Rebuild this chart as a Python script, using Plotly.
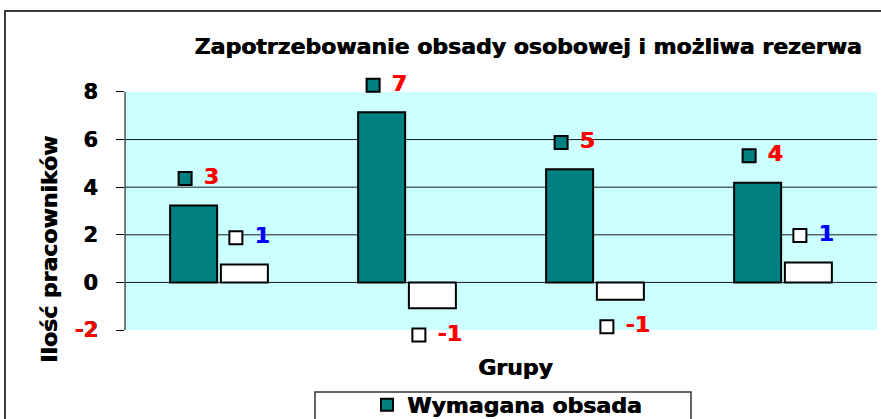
import plotly.graph_objects as go

# Data
groups = ["Grupa 1", "Grupa 2", "Grupa 3", "Grupa 4"]
wymagana_obsada = [3.23, 7.15, 4.75, 4.19]
mozliwa_rezerwa = [0.75, -1.08, -0.73, 0.84]
y_tick_values = [-2, 0, 2, 4, 6, 8]
grid_values = [0, 2, 4, 6]

# Layout geometry (pixels); the axis range is padded by half a unit so the
# data labels just outside [-2, 8] stay visible
W, H = 881, 419
ML, MR, MT, MB = 125, 4, 80, 77
PW, PH = W - ML - MR, H - MT - MB
Y_MIN, Y_MAX = min(y_tick_values), max(y_tick_values)
Y_PAD = 0.5
PX_PER_CAT = PW / len(groups)

FONT = "DejaVu Sans"
TEAL = "#008080"

BAR_W = 0.25
TEAL_OFF = -0.26
WHITE_OFF = 0.01


def px_x(px):
    return (px - ML) / PW


def px_y(py):
    return (H - MB - py) / PH


def bold(size, color="black"):
    return dict(family=FONT, size=size, weight="bold", color=color,
                shadow=f"0.7px 0px 0px {color}")


xs = list(range(len(groups)))

fig = go.Figure()

fig.add_trace(go.Bar(
    x=xs, y=wymagana_obsada, name="Wymagana obsada",
    offset=TEAL_OFF, width=BAR_W,
    marker=dict(color=TEAL, line=dict(color="black", width=2)),
    hoverinfo="skip",
))
fig.add_trace(go.Bar(
    x=xs, y=mozliwa_rezerwa, name="Możliwa rezerwa",
    offset=WHITE_OFF, width=BAR_W, showlegend=False,
    marker=dict(color="white", line=dict(color="black", width=2)),
    hoverinfo="skip",
))


def add_labels(values, bar_offset, key_color, color_fn):
    """Data labels with a legend key placed outside the bar end."""
    texts = [f"{int(round(v))}" for v in values]
    key_x, key_y = [], []
    for i, (v, t) in enumerate(zip(values, texts)):
        centre = i + bar_offset + BAR_W / 2
        w_px = 10 * len(t) + 4
        key_off_px = 4 - (26 + w_px) / 2 + 7.5
        sign = 1 if v >= 0 else -1
        key_x.append(centre + key_off_px / PX_PER_CAT)
        key_y.append(v + sign * 1.13)
    fig.add_trace(go.Scatter(
        x=key_x, y=key_y, mode="markers", showlegend=False, hoverinfo="skip",
        cliponaxis=False,
        marker=dict(symbol="square", size=13, color=key_color,
                    line=dict(color="black", width=2)),
    ))
    # one text trace per label colour
    colours = [color_fn(v) for v in values]
    for c in dict.fromkeys(colours):
        idx = [i for i, ci in enumerate(colours) if ci == c]
        fig.add_trace(go.Scatter(
            x=[key_x[i] for i in idx], y=[key_y[i] for i in idx],
            mode="markers+text", showlegend=False,
            hoverinfo="skip", cliponaxis=False,
            marker=dict(size=28, opacity=0),
            text=[texts[i] for i in idx], textposition="middle right",
            textfont=bold(22, c),
        ))


add_labels(wymagana_obsada, TEAL_OFF, TEAL, lambda v: "#ff0000")
add_labels(mozliwa_rezerwa, WHITE_OFF, "white",
           lambda v: "#0000ff" if v >= 0 else "#ff0000")

tick_text = [
    f'<span style="color:#ff0000">{v}</span>' if v < 0 else str(v)
    for v in y_tick_values
]

shapes = [
    # plot area background between the outer ticks
    dict(type="rect", xref="paper", yref="y", x0=0, x1=1,
         y0=Y_MIN, y1=Y_MAX, layer="below", line=dict(width=0),
         fillcolor="#ccffff"),
]
# horizontal gridlines
for g in grid_values:
    shapes.append(dict(type="line", xref="paper", yref="y", x0=0, x1=1,
                       y0=g, y1=g, layer="below",
                       line=dict(color="#1a1a1a", width=1)))
shapes += [
    # value axis line
    dict(type="line", xref="paper", yref="y", x0=0, x1=0,
         y0=Y_MIN, y1=Y_MAX, line=dict(color="black", width=1)),
    # chart frame
    dict(type="rect", xref="paper", yref="paper",
         x0=px_x(5), y0=px_y(11), x1=px_x(900), y1=px_y(460),
         line=dict(color="#3c3c3c", width=2), fillcolor="rgba(0,0,0,0)"),
    # legend frame
    dict(type="rect", xref="paper", yref="paper",
         x0=px_x(315), y0=px_y(392), x1=px_x(691), y1=px_y(460),
         line=dict(color="#333333", width=1.5),
         fillcolor="rgba(0,0,0,0)"),
]

fig.update_layout(
    width=W, height=H,
    margin=dict(l=ML, r=MR, t=MT, b=MB, pad=0, autoexpand=False),
    paper_bgcolor="white",
    plot_bgcolor="rgba(0,0,0,0)",
    barmode="overlay",
    font=dict(family=FONT, color="black"),
    title=dict(
        text="Zapotrzebowanie obsady osobowej i możliwa rezerwa",
        font=bold(22),
        x=px_x(528), xref="paper", xanchor="center",
        y=1 - 46 / H, yref="container", yanchor="middle",
    ),
    xaxis=dict(range=[-0.5, len(groups) - 0.5], visible=False),
    yaxis=dict(
        range=[Y_MIN - Y_PAD, Y_MAX + Y_PAD],
        tickvals=y_tick_values, ticktext=tick_text,
        ticks="outside", ticklen=8, tickcolor="black", tickwidth=1,
        showline=False, showgrid=False, zeroline=False,
        tickfont=bold(21),
        ticklabelstandoff=14,
    ),
    legend=dict(
        x=px_x(367), xanchor="left", xref="paper",
        y=px_y(405), yanchor="middle", yref="paper",
        bgcolor="rgba(0,0,0,0)", borderwidth=0,
        font=bold(22),
    ),
    showlegend=True,
    annotations=[
        dict(text="Grupy", x=px_x(515), y=px_y(367), xref="paper",
             yref="paper", showarrow=False, xanchor="center",
             yanchor="middle", font=bold(22)),
        dict(text="Ilość pracowników", x=px_x(49), y=px_y(250),
             xref="paper", yref="paper", showarrow=False, textangle=-90,
             xanchor="center", yanchor="middle", font=bold(22)),
    ],
    shapes=shapes,
)

fig.write_html("out.html")
